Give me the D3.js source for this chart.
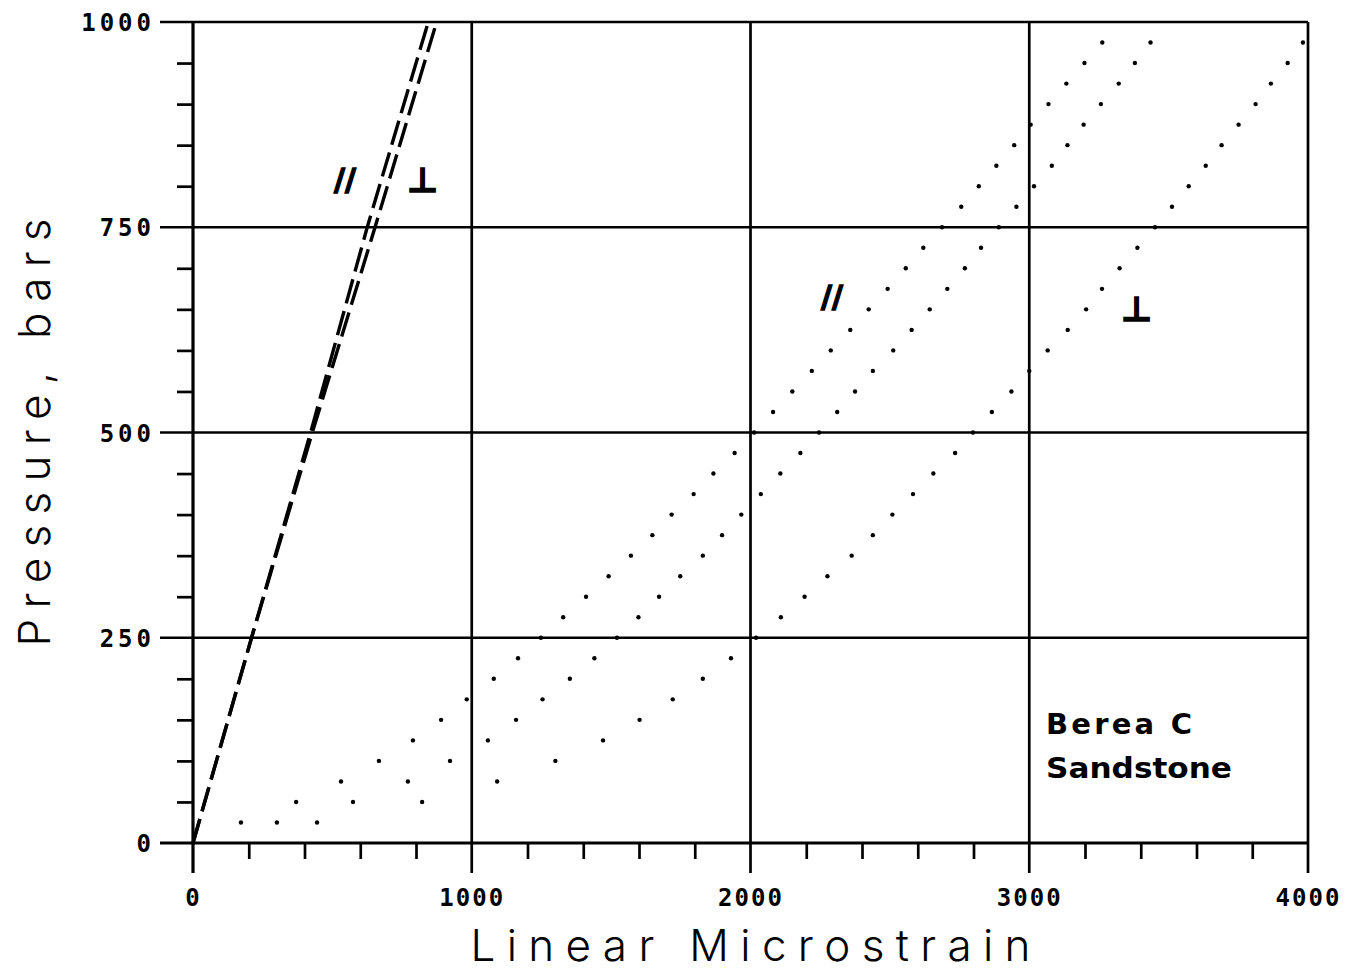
<!DOCTYPE html>
<html>
<head>
<meta charset="utf-8">
<script src="https://cdn.jsdelivr.net/npm/d3@7"></script>
<style>
  html, body { margin: 0; padding: 0; background: #fff; }
  svg { display: block; }
  .tick-label { font-family: "DejaVu Sans Mono", monospace; font-weight: 700; font-size: 24px; fill: #000; }
  .title { font-family: Inter, "DejaVu Sans", sans-serif; font-weight: 300; font-size: 44px; fill: #000; }
  .note { font-family: "DejaVu Sans", sans-serif; font-weight: 700; font-size: 29px; fill: #000; }
  .mark { font-family: "DejaVu Sans", sans-serif; font-weight: 700; fill: #000; stroke: #000; stroke-width: 1.4; }
</style>
</head>
<body>
<svg id="chart" width="1354" height="972"></svg>
<script>
// Axis tick values
const xMajorTicks = [0, 1000, 2000, 3000, 4000];
const xMinorTicks = [200, 400, 600, 800, 1200, 1400, 1600, 1800, 2200, 2400, 2600, 2800, 3200, 3400, 3600, 3800];
const yMajorTicks = [0, 250, 500, 750, 1000];
const yMinorTicks = [50, 100, 150, 200, 300, 350, 400, 450, 550, 600, 650, 700, 800, 850, 900, 950];

// Pressure steps (bars) of the point readings
const pointPressure = [25, 50, 75, 100, 125, 150, 175, 200, 225, 250, 275, 300, 325, 350, 375, 400,
  425, 450, 475, 500, 525, 550, 575, 600, 625, 650, 675, 700, 725, 750, 775, 800, 825, 850, 875, 900,
  925, 950, 975];

// Linear microstrain readings, parallel to bedding
const pointParallel = [172, 370, 531, 667, 789, 890, 982, 1079, 1166, 1248, 1328, 1410, 1491, 1571,
  1648, 1717, 1796, 1867, 1943, 2013, 2081, 2150, 2220, 2288, 2358, 2424, 2492, 2557, 2620, 2687,
  2756, 2819, 2882, 2946, 3005, 3069, 3133, 3198, 3262];

// Second parallel reading set
const pointMiddle = [301, 574, 771, 922, 1058, 1159, 1254, 1352, 1440, 1521, 1598, 1672, 1748, 1829,
  1898, 1967, 2037, 2107, 2179, 2246, 2311, 2375, 2439, 2512, 2578, 2643, 2706, 2769, 2827, 2891,
  2954, 3017, 3081, 3137, 3195, 3257, 3321, 3379, 3435];

// Linear microstrain readings, perpendicular to bedding
const pointPerpendicular = [445, 822, 1091, 1300, 1471, 1602, 1721, 1829, 1930, 2020, 2109, 2194,
  2276, 2363, 2439, 2509, 2583, 2656, 2734, 2798, 2866, 2936, 3000, 3066, 3138, 3204, 3261, 3324,
  3388, 3451, 3512, 3572, 3633, 3690, 3751, 3812, 3867, 3927, 3982];

// Dashed reference curves
const linePressure = [0, 250, 500, 750, 1000];
const lineParallel = [0, 210, 422, 625, 844];
const linePerpendicular = [0, 210, 428, 653, 874];

const svg = d3.select("#chart");
const x = d3.scaleLinear().domain([0, 4000]).range([193, 1308]);
const y = d3.scaleLinear().domain([0, 1000]).range([843, 22]);

const ink = "#000";

// Grid lines at major ticks (extended past the frame as outer ticks)
const grid = svg.append("g");
grid.selectAll("line.vx").data(xMajorTicks).join("line")
  .attr("x1", d => x(d)).attr("x2", d => x(d))
  .attr("y1", y(0) + 30).attr("y2", y(1000))
  .attr("stroke", ink).attr("stroke-width", d => (d === 0 ? 3.2 : 2.7));
grid.selectAll("line.hy").data(yMajorTicks).join("line")
  .attr("y1", d => y(d)).attr("y2", d => y(d))
  .attr("x1", x(0) - 33).attr("x2", x(4000))
  .attr("stroke", ink).attr("stroke-width", d => (d === 0 ? 3.2 : 2.7));

// Minor ticks
const xMinorAxis = d3.axisBottom(x).tickValues(xMinorTicks).tickSize(16).tickFormat("");
const gxm = svg.append("g").attr("transform", `translate(0,${y(0)})`).call(xMinorAxis);
gxm.select(".domain").remove();
gxm.selectAll("line").attr("stroke", ink).attr("stroke-width", 2.7);

const yMinorAxis = d3.axisLeft(y).tickValues(yMinorTicks).tickSize(16).tickFormat("");
const gym = svg.append("g").attr("transform", `translate(${x(0)},0)`).call(yMinorAxis);
gym.select(".domain").remove();
gym.selectAll("line").attr("stroke", ink).attr("stroke-width", 2.7);

// Major tick labels
const xAxis = d3.axisBottom(x).tickValues(xMajorTicks).tickSize(0).tickPadding(63).tickFormat(d3.format("d"));
const gx = svg.append("g").attr("transform", `translate(0,${y(0)})`).call(xAxis);
gx.select(".domain").remove();
gx.selectAll("text").attr("class", "tick-label").attr("dy", 0).style("letter-spacing", "2px");

const yAxis = d3.axisLeft(y).tickValues(yMajorTicks).tickSize(0).tickPadding(38).tickFormat(d3.format("d"));
const gy = svg.append("g").attr("transform", `translate(${x(0)},0)`).call(yAxis);
gy.select(".domain").remove();
gy.selectAll("text").attr("class", "tick-label").attr("dy", "0.36em").style("letter-spacing", "4px");

// Dashed curves
const dashLine = d3.line().x(d => x(d[0])).y(d => y(d[1]));
[lineParallel, linePerpendicular].forEach(series => {
  svg.append("path")
    .datum(series.map((s, i) => [s, linePressure[i]]))
    .attr("d", dashLine)
    .attr("fill", "none")
    .attr("stroke", ink)
    .attr("stroke-width", 3.4)
    .attr("stroke-dasharray", "25 8");
});

// Point readings
[pointParallel, pointMiddle, pointPerpendicular].forEach(series => {
  svg.append("g").selectAll("circle")
    .data(series.map((s, i) => [s, pointPressure[i]]))
    .join("circle")
    .attr("cx", d => x(d[0]))
    .attr("cy", d => y(d[1]))
    .attr("r", 2.2)
    .attr("fill", ink);
});

// Curve markers
svg.append("text").attr("class", "mark").attr("x", 334).attr("y", 190).attr("font-size", 30).text("//");
svg.append("text").attr("class", "mark").attr("x", 407).attr("y", 192).attr("font-size", 34).text("⊥");
svg.append("text").attr("class", "mark").attr("x", 821).attr("y", 307).attr("font-size", 30).text("//");
svg.append("text").attr("class", "mark").attr("x", 1121).attr("y", 321).attr("font-size", 34).text("⊥");

// Specimen note
svg.append("text").attr("class", "note").attr("x", 1046).attr("y", 734).text("Berea C")
  .attr("textLength", 146).attr("lengthAdjust", "spacing");
svg.append("text").attr("class", "note").attr("x", 1046).attr("y", 778).text("Sandstone")
  .attr("textLength", 186).attr("lengthAdjust", "spacingAndGlyphs");

// Axis titles
svg.append("text").attr("class", "title")
  .attr("text-anchor", "middle")
  .attr("x", (x(0) + x(4000)) / 2).attr("y", 961)
  .attr("textLength", 560).attr("lengthAdjust", "spacing")
  .text("Linear Microstrain");

svg.append("text").attr("class", "title")
  .attr("text-anchor", "middle")
  .attr("transform", `translate(50,${(y(0) + y(1000)) / 2}) rotate(-90)`)
  .attr("textLength", 428).attr("lengthAdjust", "spacing")
  .text("Pressure, bars");
</script>
</body>
</html>
